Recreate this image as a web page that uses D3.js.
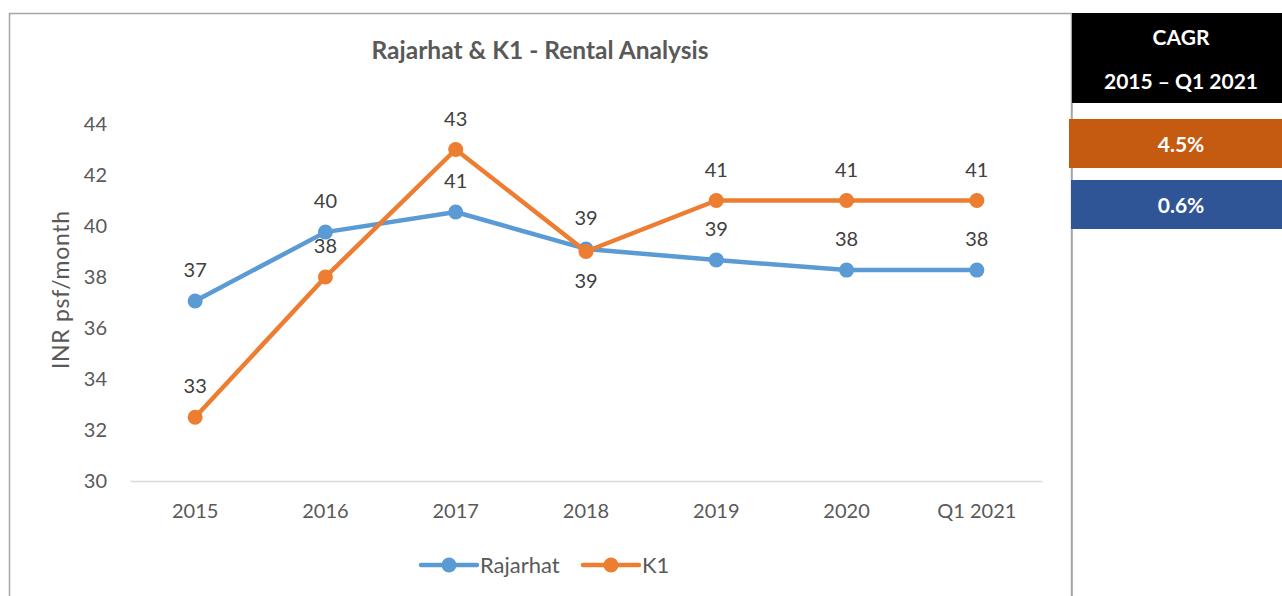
<!DOCTYPE html>
<html>
<head>
<meta charset="utf-8">
<script src="https://cdn.jsdelivr.net/npm/d3@7"></script>
<style>
  body { margin: 0; background: #fff; }
  svg { display: block; font-family: Lato, "Open Sans", sans-serif; }
</style>
</head>
<body>
<div id="chart"></div>
<script>
// Chart data
const categories = ["2015", "2016", "2017", "2018", "2019", "2020", "Q1 2021"];
const rajarhat = [37.06, 39.76, 40.55, 39.1, 38.67, 38.27, 38.27];
const k1 = [32.5, 38.0, 43.0, 39.0, 41.0, 41.0, 41.0];
const yTicks = [30, 32, 34, 36, 38, 40, 42, 44];
const cagrHeader = ["CAGR", "2015 \u2013 Q1 2021"];
const cagrValues = ["4.5%", "0.6%"];

const series = [
  { name: "Rajarhat", values: rajarhat, color: "#5b9bd5", labelBelow: [] },
  { name: "K1", values: k1, color: "#ed7d31", labelBelow: ["2018"] }
];

const W = 1282, H = 596;
const svg = d3.select("#chart").append("svg").attr("width", W).attr("height", H);

// Chart frame
svg.append("rect")
  .attr("x", 9.5).attr("y", 13.5)
  .attr("width", 1062).attr("height", 600)
  .attr("fill", "#fff").attr("stroke", "#a6a6a6").attr("stroke-width", 1.5);

// Scales
const x = d3.scaleBand().domain(categories).range([130, 1042]);
const y = d3.scaleLinear().domain([30, 44]).range([481, 124]);
const cx = d => x(d) + x.bandwidth() / 2;

// Title
svg.append("text")
  .attr("x", 540).attr("y", 59)
  .attr("text-anchor", "middle")
  .attr("fill", "#595959").attr("font-weight", "bold").attr("font-size", 24.5)
  .text("Rajarhat & K1 - Rental Analysis");

// Y axis
const yAxis = svg.append("g")
  .attr("transform", "translate(130,0)")
  .call(d3.axisLeft(y).tickValues(yTicks).tickSize(0).tickPadding(23));
yAxis.select(".domain").remove();
yAxis.selectAll("text").attr("fill", "#595959").attr("font-size", 20).attr("font-family", "Lato, sans-serif");

// X axis (baseline only)
const xAxis = svg.append("g")
  .attr("transform", "translate(0,481)")
  .call(d3.axisBottom(x).tickSize(0).tickPadding(23));
xAxis.select(".domain").attr("stroke", "#d9d9d9").attr("stroke-width", 1.5);
xAxis.selectAll("text").attr("fill", "#595959").attr("font-size", 20).attr("font-family", "Lato, sans-serif");

// Y axis title
svg.append("text")
  .attr("transform", "translate(69,290) rotate(-90)")
  .attr("text-anchor", "middle")
  .attr("fill", "#595959").attr("font-size", 23)
  .attr("textLength", 158).attr("lengthAdjust", "spacing")
  .text("INR psf/month");

// Lines and markers
const line = d3.line()
  .x((d, i) => cx(categories[i]))
  .y(d => y(d));

series.forEach(s => {
  svg.append("path")
    .datum(s.values)
    .attr("d", line)
    .attr("fill", "none")
    .attr("stroke", s.color)
    .attr("stroke-width", 4.5)
    .attr("stroke-linejoin", "round")
    .attr("stroke-linecap", "round");

  svg.selectAll(null)
    .data(s.values)
    .enter()
    .append("circle")
    .attr("cx", (d, i) => cx(categories[i]))
    .attr("cy", d => y(d))
    .attr("r", 7.5)
    .attr("fill", s.color);
});

// Data labels
series.forEach(s => {
  svg.selectAll(null)
    .data(s.values)
    .enter()
    .append("text")
    .attr("x", (d, i) => cx(categories[i]))
    .attr("y", (d, i) => s.labelBelow.includes(categories[i]) ? y(d) + 36 : y(d) - 24)
    .attr("text-anchor", "middle")
    .attr("fill", "#404040").attr("font-size", 20)
    .text(d => Math.round(d));
});

// Legend
const legend = svg.append("g").attr("transform", "translate(0,565)");
const legendX = [421, 583];
series.forEach((s, i) => {
  const g = legend.append("g").attr("transform", `translate(${legendX[i]},0)`);
  g.append("line").attr("x1", 0).attr("x2", 56).attr("y1", 0).attr("y2", 0)
    .attr("stroke", s.color).attr("stroke-width", 4.5).attr("stroke-linecap", "round");
  g.append("circle").attr("cx", 28).attr("cy", 0).attr("r", 7.5).attr("fill", s.color);
  g.append("text").attr("x", 59).attr("y", 8)
    .attr("fill", "#595959").attr("font-size", 22)
    .text(s.name);
});

// CAGR side panel
svg.append("line")
  .attr("x1", 1072).attr("x2", 1072).attr("y1", 13).attr("y2", H)
  .attr("stroke", "#a6a6a6").attr("stroke-width", 1.5);

svg.append("rect")
  .attr("x", 1072).attr("y", 13).attr("width", 210).attr("height", 90)
  .attr("fill", "#000");
svg.selectAll(null)
  .data(cagrHeader)
  .enter()
  .append("text")
  .attr("x", 1181)
  .attr("y", (d, i) => 45 + i * 44)
  .attr("text-anchor", "middle")
  .attr("fill", "#fff").attr("font-weight", "bold").attr("font-size", 21)
  .text(d => d);

const boxColors = ["#c55a11", "#2f5597"];
const boxY = [119, 180];
cagrValues.forEach((v, i) => {
  svg.append("rect")
    .attr("x", i === 0 ? 1069 : 1071).attr("y", boxY[i])
    .attr("width", 213).attr("height", 49)
    .attr("fill", boxColors[i]);
  svg.append("text")
    .attr("x", 1181).attr("y", boxY[i] + 33)
    .attr("text-anchor", "middle")
    .attr("fill", "#fff").attr("font-weight", "bold").attr("font-size", 21)
    .text(v);
});
</script>
</body>
</html>
